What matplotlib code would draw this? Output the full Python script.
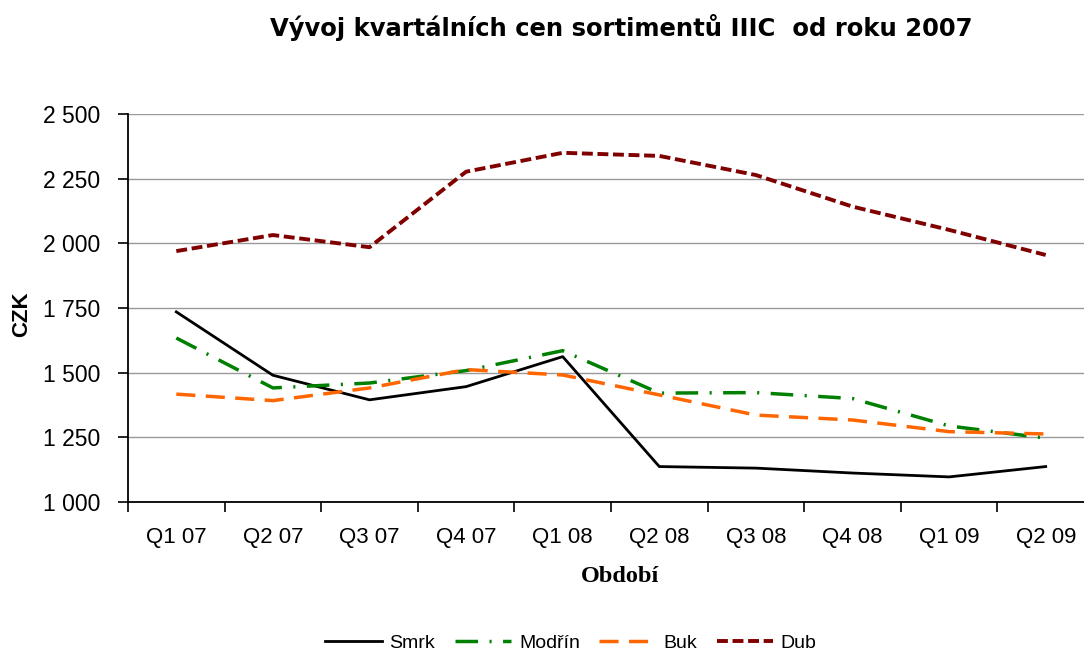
import numpy as np
import matplotlib
matplotlib.use("Agg")
import matplotlib.pyplot as plt
from matplotlib.ticker import FuncFormatter, FixedLocator

quarters = ["Q1 07", "Q2 07", "Q3 07", "Q4 07", "Q1 08",
            "Q2 08", "Q3 08", "Q4 08", "Q1 09", "Q2 09"]
smrk = [1735, 1490, 1395, 1446, 1562, 1137, 1131, 1112, 1097, 1137]
modrin = [1634, 1441, 1460, 1508, 1585, 1421, 1423, 1400, 1294, 1247]
buk = [1417, 1392, 1441, 1512, 1491, 1414, 1336, 1317, 1272, 1263]
dub = [1970, 2032, 1985, 2277, 2350, 2338, 2264, 2142, 2052, 1955]

plt.rcParams['font.family'] = ['Liberation Sans', 'DejaVu Sans']

W, H = 1084, 653
fig = plt.figure(figsize=(W / 100, H / 100), dpi=100)
# plot area runs a bit past the right edge, like in the original cut-off chart
ax = fig.add_axes([128 / W, 1 - 502 / H, (1094 - 128) / W, 388 / H])

x = np.arange(len(quarters))
ax.plot(x, smrk, color='black', lw=2, label='Smrk')
ax.plot(x, modrin, color='#008000', lw=2.5, dashes=(6.5, 3.3, 0.6, 3.3), label='Modřín')
ax.plot(x, buk, color='#FF6600', lw=2.5, dashes=(5.5, 3), label='Buk')
ax.plot(x, dub, color='#800000', lw=2.8, dashes=(2.8, 1.2), label='Dub')

ax.set_xlim(-0.5, len(quarters) - 0.5)
ax.set_ylim(1000, 2500)
ax.set_yticks(range(1000, 2501, 250))
ax.yaxis.set_major_formatter(FuncFormatter(lambda v, p: f"{int(v):,}".replace(",", " ")))
ax.grid(axis='y', color='#999999', lw=1)
ax.set_axisbelow(True)

ax.set_xticks(x)
ax.set_xticklabels(quarters)
ax.xaxis.set_minor_locator(FixedLocator(np.arange(-0.5, len(quarters), 1)))
ax.tick_params(axis='x', which='major', length=0, pad=18, labelsize=16)
ax.tick_params(axis='x', which='minor', length=7, width=1.2, direction='out')
ax.tick_params(axis='y', length=7, width=1.2, direction='out', labelsize=16.5, pad=13)

for s in ['top', 'right']:
    ax.spines[s].set_visible(False)
for s in ['left', 'bottom']:
    ax.spines[s].set_linewidth(1.3)

ax.set_xlabel('Období', fontsize=17.5, fontweight='bold', family='Liberation Serif')
ax.xaxis.set_label_coords((620 - 128) / 966, (502 - 566) / 388)
fig.text(22 / W, 1 - 314 / H, 'CZK', rotation=90, ha='center', va='center',
         fontsize=16, fontweight='bold')

fig.text(621 / W, 1 - 36 / H, 'Vývoj kvartálních cen sortimentů IIIC  od roku 2007',
         ha='center', va='baseline', fontsize=17.5, fontweight='bold',
         family='DejaVu Sans')

fig.legend(loc='center', bbox_to_anchor=(571 / W, 1 - 643 / H), ncol=4,
           frameon=False, fontsize=14, handlelength=2.9, columnspacing=1.0,
           handletextpad=0.4)

fig.savefig('out.png', dpi=100)
